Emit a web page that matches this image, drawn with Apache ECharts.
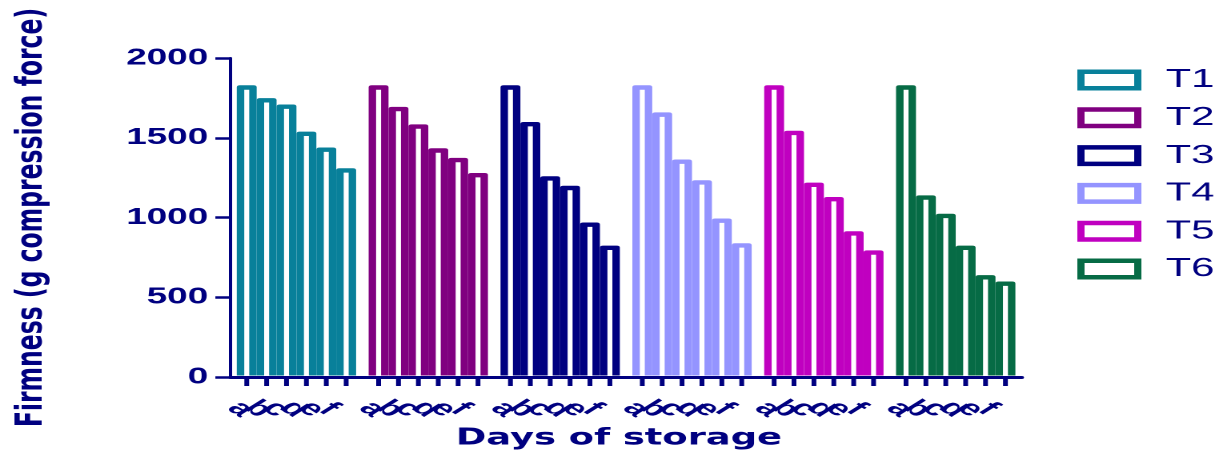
<!DOCTYPE html>
<html>
<head>
<meta charset="utf-8">
<script src="https://cdn.jsdelivr.net/npm/echarts@6/dist/echarts.min.js"></script>
<style>
  html, body { margin: 0; padding: 0; background: #fff; overflow: hidden; }
  #wrap { width: 1215px; height: 455px; overflow: hidden; }
  #c { width: 759px; height: 455px; transform: scaleX(1.6008); transform-origin: 0 0; }
</style>
</head>
<body>
<div id="wrap"><div id="c"></div></div>
<script>
// ---- data ----
const treatments = ['T1', 'T2', 'T3', 'T4', 'T5', 'T6'];
const days = ['a', 'b', 'c', 'd', 'e', 'f'];
const yTicks = [0, 500, 1000, 1500, 2000];
const T1 = [1815, 1735, 1695, 1525, 1425, 1295];
const T2 = [1815, 1680, 1570, 1420, 1360, 1265];
const T3 = [1815, 1585, 1245, 1185, 955, 810];
const T4 = [1815, 1645, 1350, 1220, 980, 825];
const T5 = [1815, 1530, 1205, 1115, 900, 780];
const T6 = [1815, 1125, 1010, 810, 625, 585];
const values = [T1, T2, T3, T4, T5, T6];

// ---- style ----
const colors = ['#08809A', '#800080', '#000080', '#9494FF', '#C000C0', '#066B45'];
const NAVY = '#000080';
const SLOT_FRAC = 20 / 132.6;   // bar slot as fraction of the category band
const HALF_BORDER = 2.2;
const LABEL_SHIFT = -7.5;
const LABEL_STEP = 11.1;

function renderItem(params, api) {
  const g = api.value(0), d = api.value(1), v = api.value(2);
  const base = api.coord([g, 0]);
  const top = api.coord([g, v]);
  const band = api.size([1, 0])[0];
  const slot = band * SLOT_FRAC;
  const cx = base[0] + (d - 2.5) * slot;
  const color = api.visual('color');
  const axisY = base[1];
  const innerW = slot * 0.25;
  return {
    type: 'group',
    children: [
      { type: 'rect',
        shape: { x: cx - slot / 2, y: top[1] - HALF_BORDER, width: slot, height: axisY - 1.5 - (top[1] - HALF_BORDER), r: [2, 2, 0, 0] },
        style: { fill: color } },
      { type: 'rect',
        shape: { x: cx - innerW / 2, y: top[1] + HALF_BORDER, width: innerW, height: axisY - 1.5 - (top[1] + HALF_BORDER) },
        style: { fill: '#ffffff' } },
      { type: 'rect',
        shape: { x: cx - 1.5, y: axisY + 1, width: 3, height: 8 },
        style: { fill: NAVY } },
      { type: 'text',
        x: base[0] + LABEL_SHIFT + (d - 2.5) * LABEL_STEP,
        y: axisY + 32,
        rotation: -Math.PI / 4,
        style: { text: days[d], fill: NAVY, font: 'bold 22px "Liberation Sans", Arial, sans-serif', align: 'center', verticalAlign: 'middle' } }
    ]
  };
}

const chart = echarts.init(document.getElementById('c'), null, { renderer: 'canvas', devicePixelRatio: 2 });

const series = treatments.map((t, gi) => ({
  name: t,
  type: 'custom',
  renderItem: renderItem,
  clip: false,
  encode: { x: 0, y: 2 },
  itemStyle: { color: colors[gi] },
  data: values[gi].map((v, di) => [gi, di, v])
}));

chart.setOption({
  animation: false,
  color: colors,
  grid: { left: 141.2, top: 58, width: 497, bottom: 78, containLabel: false },
  legend: {
    orient: 'vertical',
    left: 673,
    top: 67,
    padding: 0,
    itemWidth: 35.5,
    itemHeight: 16.5,
    itemGap: 11.8,
    selectedMode: false,
    data: treatments.map((t, i) => ({
      name: t,
      icon: 'rect',
      itemStyle: { color: '#ffffff', borderColor: colors[i], borderWidth: 4.5 }
    })),
    formatter: '{t|{name}}',
    textStyle: {
      rich: {
        t: { color: NAVY, fontSize: 26, fontFamily: '"Liberation Sans", Arial, sans-serif', padding: [0, 0, 0, 12.5], lineHeight: 25 }
      }
    }
  },
  xAxis: {
    type: 'category',
    data: treatments,
    name: 'Days of storage',
    nameLocation: 'middle',
    nameGap: 50,
    nameTextStyle: { color: NAVY, fontSize: 23, fontWeight: 'bold', fontFamily: '"DejaVu Sans", sans-serif', padding: [0, 9, 0, 0] },
    axisLine: { lineStyle: { color: NAVY, width: 3 } },
    axisTick: { show: false },
    axisLabel: { show: false },
    splitLine: { show: false }
  },
  yAxis: {
    type: 'value',
    min: yTicks[0],
    max: yTicks[yTicks.length - 1],
    interval: yTicks[1] - yTicks[0],
    name: 'Firmness (g compression force)',
    nameLocation: 'middle',
    nameGap: 112,
    nameTextStyle: { color: NAVY, fontSize: 23.5, fontWeight: 'bold', fontFamily: '"DejaVu Sans", sans-serif' },
    axisLine: { show: true, lineStyle: { color: NAVY, width: 2 } },
    axisTick: { show: true, length: 9.5, lineStyle: { color: NAVY, width: 2.5 } },
    axisLabel: { color: NAVY, fontSize: 23, fontWeight: 'bold', fontFamily: '"Liberation Sans", Arial, sans-serif', margin: 14, formatter: (v) => String(v) },
    splitLine: { show: false }
  },
  series: series
});
</script>
</body>
</html>
